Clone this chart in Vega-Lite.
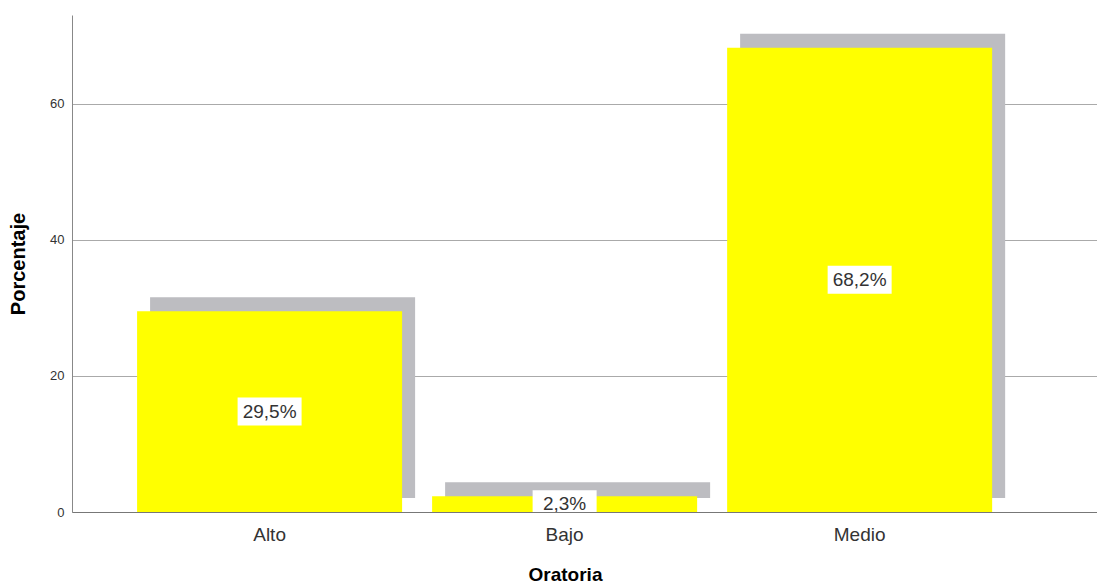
{
  "$schema": "https://vega.github.io/schema/vega-lite/v6.json",
  "width": 1025,
  "height": 497,
  "autosize": {"type": "none"},
  "padding": {"left": 72, "top": 15, "right": 0, "bottom": 73},
  "background": "white",
  "config": {"view": {"stroke": null}, "font": "Liberation Sans"},
  "data": {
    "values": [
      {"Oratoria": "Alto", "pct": 29.5, "etiqueta": "29,5%"},
      {"Oratoria": "Bajo", "pct": 2.3, "etiqueta": "2,3%"},
      {"Oratoria": "Medio", "pct": 68.2, "etiqueta": "68,2%"}
    ]
  },
  "encoding": {
    "x": {
      "field": "Oratoria",
      "type": "nominal",
      "sort": ["Alto", "Bajo", "Medio"],
      "scale": {"paddingInner": 0.1017, "paddingOuter": 0.288, "align": 0.383},
      "axis": {
        "title": "Oratoria",
        "titleFontSize": 19,
        "titleFontWeight": "bold",
        "titleColor": "#000000",
        "titlePadding": 21,
        "titleX": 493,
        "labelFontSize": 19,
        "labelColor": "#333333",
        "labelAngle": 0,
        "labelPadding": 13,
        "ticks": false,
        "grid": false,
        "domainColor": "#777777",
        "zindex": 1
      }
    },
    "y": {
      "field": "pct",
      "type": "quantitative",
      "scale": {"domain": [0, 73], "nice": false},
      "axis": {
        "title": "Porcentaje",
        "titleFontSize": 20,
        "titleFontWeight": "bold",
        "titleColor": "#000000",
        "titlePadding": 21,
        "labelFontSize": 13,
        "labelColor": "#333333",
        "labelPadding": 8,
        "values": [0, 20, 40, 60],
        "ticks": false,
        "gridColor": "#aaaaaa",
        "domainColor": "#888888"
      }
    }
  },
  "layer": [
    {
      "mark": {"type": "bar", "color": "#bdbdc1", "xOffset": 13, "x2Offset": 13, "yOffset": -14, "y2Offset": -14}
    },
    {
      "mark": {"type": "bar", "color": "#ffff00"}
    },
    {
      "mark": {"type": "tick", "color": "#ffffff", "opacity": 1, "size": 64, "thickness": 28, "orient": "horizontal"},
      "encoding": {
        "y": {
          "field": "pct",
          "type": "quantitative",
          "stack": "zero",
          "bandPosition": 0.5,
          "scale": {"domain": [0, 73], "nice": false},
          "axis": {
            "title": "Porcentaje",
            "titleFontSize": 20,
            "titleFontWeight": "bold",
            "titleColor": "#000000",
            "titlePadding": 21,
            "labelFontSize": 13,
            "labelColor": "#333333",
            "labelPadding": 8,
            "values": [0, 20, 40, 60],
            "ticks": false,
            "gridColor": "#aaaaaa",
            "domainColor": "#888888"
          }
        }
      }
    },
    {
      "mark": {"type": "text", "fontSize": 19, "color": "#333333", "baseline": "middle", "align": "center"},
      "encoding": {
        "y": {
          "field": "pct",
          "type": "quantitative",
          "stack": "zero",
          "bandPosition": 0.5,
          "scale": {"domain": [0, 73], "nice": false},
          "axis": {
            "title": "Porcentaje",
            "titleFontSize": 20,
            "titleFontWeight": "bold",
            "titleColor": "#000000",
            "titlePadding": 21,
            "labelFontSize": 13,
            "labelColor": "#333333",
            "labelPadding": 8,
            "values": [0, 20, 40, 60],
            "ticks": false,
            "gridColor": "#aaaaaa",
            "domainColor": "#888888"
          }
        },
        "text": {"field": "etiqueta", "type": "nominal"}
      }
    }
  ]
}
